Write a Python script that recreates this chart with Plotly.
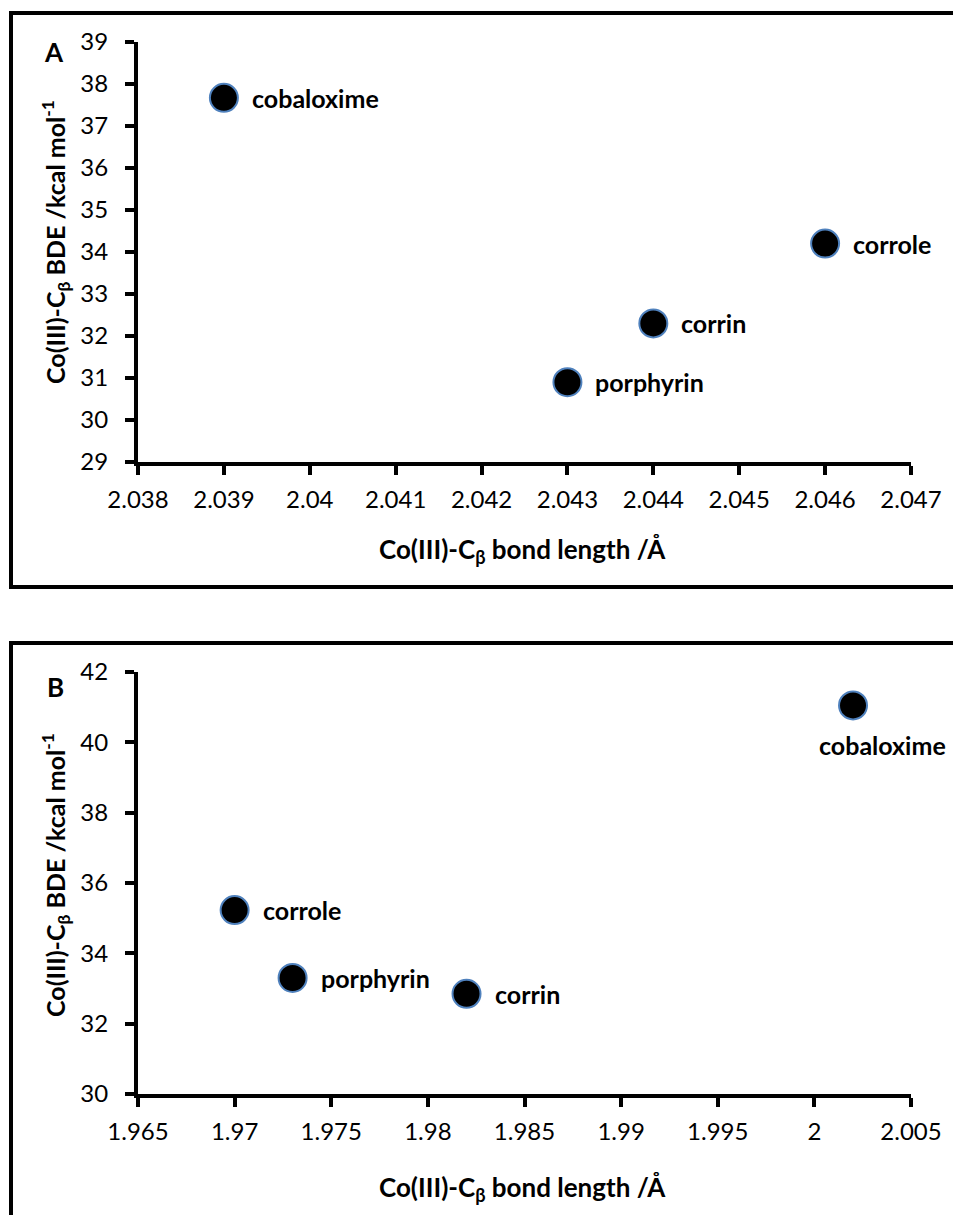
import plotly.graph_objects as go

# ---- Data ----
names_a = ["cobaloxime", "corrole", "corrin", "porphyrin"]
bond_a = [2.039, 2.046, 2.044, 2.043]
bde_a = [37.67, 34.2, 32.3, 30.9]

names_b = ["cobaloxime", "corrole", "porphyrin", "corrin"]
bond_b = [2.002, 1.970, 1.973, 1.982]
bde_b = [41.05, 35.23, 33.3, 32.85]

xticks_a = [2.038, 2.039, 2.04, 2.041, 2.042, 2.043, 2.044, 2.045, 2.046, 2.047]
xticktext_a = ["2.038", "2.039", "2.04", "2.041", "2.042", "2.043", "2.044", "2.045", "2.046", "2.047"]
yticks_a = [29, 30, 31, 32, 33, 34, 35, 36, 37, 38, 39]

xticks_b = [1.965, 1.97, 1.975, 1.98, 1.985, 1.99, 1.995, 2.0, 2.005]
xticktext_b = ["1.965", "1.97", "1.975", "1.98", "1.985", "1.99", "1.995", "2", "2.005"]
yticks_b = [30, 32, 34, 36, 38, 40, 42]

OFF = 8  # default page body margin
W, H = 961 - OFF, 1215 - OFF
FONT = "Lato"


def px(x):
    return (x - OFF) / W


def py(y):
    return 1 - (y - OFF) / H


fig = go.Figure()

marker = dict(size=28, color="black", line=dict(color="#4F81BD", width=2))

fig.add_trace(go.Scatter(x=bond_a, y=bde_a, mode="markers", marker=marker,
                         xaxis="x", yaxis="y", showlegend=False, hoverinfo="skip"))
fig.add_trace(go.Scatter(x=bond_b, y=bde_b, mode="markers", marker=marker,
                         xaxis="x2", yaxis="y2", showlegend=False, hoverinfo="skip"))

axis_common = dict(
    showgrid=False, zeroline=False, showline=True, linecolor="black", linewidth=4,
    ticks="outside", ticklen=9, tickwidth=4, tickcolor="black", automargin=False,
    tickfont=dict(family=FONT, size=24, color="black"),
)

fig.update_layout(
    template="none",
    width=W, height=H,
    margin=dict(l=0, r=0, t=0, b=0, pad=0, autoexpand=False),
    paper_bgcolor="white", plot_bgcolor="white",
    xaxis=dict(domain=[px(138), px(911)], range=[2.038, 2.047], anchor="y",
               tickvals=xticks_a, ticktext=xticktext_a, ticklabelstandoff=4, **axis_common),
    yaxis=dict(domain=[py(462), py(42)], range=[29, 39], anchor="x",
               tickvals=yticks_a, ticklabelstandoff=12, **axis_common),
    xaxis2=dict(domain=[px(138), px(911)], range=[1.965, 2.005], anchor="y2",
                tickvals=xticks_b, ticktext=xticktext_b, ticklabelstandoff=4, **axis_common),
    yaxis2=dict(domain=[py(1094), py(672)], range=[30, 42], anchor="x2",
                tickvals=yticks_b, ticklabelstandoff=12, **axis_common),
)

lab_font = dict(family=FONT, size=25, color="black")
for n, x, y in zip(names_a, bond_a, bde_a):
    fig.add_annotation(x=x, y=y, xref="x", yref="y", text="<b>%s</b>" % n,
                       showarrow=False, xanchor="left", yanchor="middle", xshift=26,
                       font=lab_font)
for n, x, y in zip(names_b, bond_b, bde_b):
    if n == "cobaloxime":
        fig.add_annotation(x=x, y=y, xref="x2", yref="y2", text="<b>%s</b>" % n,
                           showarrow=False, xanchor="center", yanchor="middle",
                           xshift=29, yshift=-40, font=lab_font)
    else:
        fig.add_annotation(x=x, y=y, xref="x2", yref="y2", text="<b>%s</b>" % n,
                           showarrow=False, xanchor="left", yanchor="middle", xshift=26,
                           font=lab_font)

xtitle_font = dict(family=FONT, size=26, color="black")
ytitle_font = dict(family=FONT, size=25, color="black")
ytitle = "<b>Co(III)-C<sub>β</sub> BDE /kcal mol<sup>-1</sup></b>"
xtitle = "<b>Co(III)-C<sub>β</sub> bond length /Å</b>"

fig.add_annotation(x=px(55), y=py(242), xref="paper", yref="paper", text=ytitle,
                   textangle=-90, showarrow=False, xanchor="center", yanchor="middle",
                   font=ytitle_font)
fig.add_annotation(x=px(55), y=py(875), xref="paper", yref="paper", text=ytitle,
                   textangle=-90, showarrow=False, xanchor="center", yanchor="middle",
                   font=ytitle_font)
fig.add_annotation(x=px(522), y=py(550), xref="paper", yref="paper", text=xtitle,
                   showarrow=False, xanchor="center", yanchor="middle", font=xtitle_font)
fig.add_annotation(x=px(522), y=py(1188), xref="paper", yref="paper", text=xtitle,
                   showarrow=False, xanchor="center", yanchor="middle", font=xtitle_font)

letter_font = dict(family=FONT, size=26, color="black")
fig.add_annotation(x=px(54), y=py(52), xref="paper", yref="paper", text="<b>A</b>",
                   showarrow=False, xanchor="center", yanchor="middle", font=letter_font)
fig.add_annotation(x=px(55), y=py(687), xref="paper", yref="paper", text="<b>B</b>",
                   showarrow=False, xanchor="center", yanchor="middle", font=letter_font)

# panel borders
fig.add_shape(type="rect", xref="paper", yref="paper", x0=px(11), x1=px(975),
              y0=py(587), y1=py(13), line=dict(color="black", width=4), layer="below")
fig.add_shape(type="rect", xref="paper", yref="paper", x0=px(11), x1=px(975),
              y0=py(1230), y1=py(643), line=dict(color="black", width=4), layer="below")

fig.write_html("out.html")
